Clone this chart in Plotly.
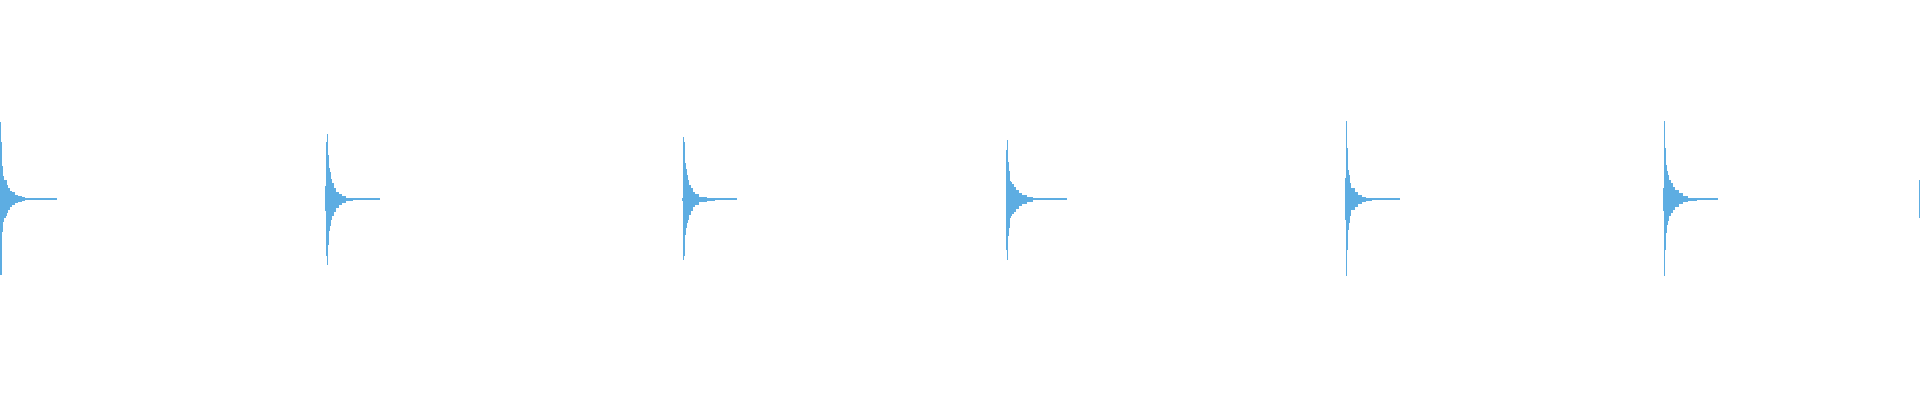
import plotly.graph_objects as go

# Waveform envelope of seven drum hits (time in ms, amplitude in % of full scale).
# Each burst: step boundaries, upper envelope, lower envelope.
hit1_t = [0, 1, 2, 3, 4, 6, 7, 8, 10, 12, 15, 18, 22, 25, 35, 57]
hit1_hi = [38.5, 28.5, 16.5, 11.5, 9.5, 9.5, 7, 5.5, 4, 3.5, 2.25, 1.75, 1, 0.5, 0.25]
hit1_lo = [-38, -38, -16.5, -11.5, -9.5, -8.25, -7, -5.25, -4, -2.75, -2, -1.5, -0.75, -0.5, -0.25]

hit2_t = [325, 326, 327, 328, 329, 330, 331, 332, 334, 336, 339, 342, 346, 353, 380]
hit2_hi = [6.5, 28.5, 32.5, 22, 15.5, 13.5, 10, 8, 5.5, 3.75, 2.5, 1.75, 0.75, 0.25]
hit2_lo = [-6, -28.5, -33, -23, -16, -13.5, -10.25, -8.5, -6.5, -4.5, -3, -1.75, -0.75, -0.25]

hit3_t = [682, 683, 684, 685, 686, 687, 688, 689, 691, 693, 695, 699, 707, 715, 723, 737]
hit3_hi = [0.85, 31, 28.5, 18, 15, 12, 9.5, 7, 5.5, 3.85, 2.65, 1.35, 0.85, 0.5, 0.25]
hit3_lo = [-0.85, -30.5, -28.5, -18, -14.5, -12, -10.35, -7.85, -6, -4, -2.85, -1.5, -0.85, -0.5, -0.25]

hit4_t = [1006, 1007, 1008, 1009, 1010, 1011, 1012, 1014, 1016, 1019, 1022, 1027, 1033, 1048, 1067]
hit4_hi = [24.5, 29.5, 18.5, 14, 9, 8.5, 7.5, 6.35, 4.5, 3.35, 2.15, 1.35, 0.5, 0.25]
hit4_lo = [-25.5, -30.5, -18.5, -14.5, -9.5, -8.5, -7.5, -6.5, -5, -3.5, -2.35, -1.35, -0.5, -0.25]

hit5_t = [1345, 1346, 1347, 1348, 1349, 1350, 1351, 1355, 1358, 1362, 1366, 1372, 1400]
hit5_hi = [10.5, 39, 25.5, 14.5, 12, 8, 5.5, 3.85, 2.15, 1.35, 0.65, 0.25]
hit5_lo = [-10.5, -38.5, -25.5, -15.5, -12, -8.5, -5.5, -4, -2.35, -1.35, -0.65, -0.25]

hit6_t = [1663, 1664, 1665, 1666, 1667, 1668, 1669, 1671, 1673, 1675, 1679, 1683, 1688, 1697, 1718]
hit6_hi = [5.5, 39, 25.5, 17, 14, 12, 9.5, 8, 6.35, 4.65, 3, 1.65, 0.85, 0.25]
hit6_lo = [-6, -38.5, -25.5, -17, -13, -11, -8.5, -7, -5.35, -3.65, -2.35, -1.35, -0.65, -0.25]

hit7_t = [1919, 1920]
hit7_hi = [9.5]
hit7_lo = [-9.5]

hits = [
    (hit1_t, hit1_hi, hit1_lo),
    (hit2_t, hit2_hi, hit2_lo),
    (hit3_t, hit3_hi, hit3_lo),
    (hit4_t, hit4_hi, hit4_lo),
    (hit5_t, hit5_hi, hit5_lo),
    (hit6_t, hit6_hi, hit6_lo),
    (hit7_t, hit7_hi, hit7_lo),
]

WAVE_COLOR = "#5DADE2"

# flatten envelope steps into one bar trace (base = lower, height = upper - lower)
xs, widths, bases, heights = [], [], [], []
for t, hi, lo in hits:
    for i in range(len(hi)):
        xs.append((t[i] + t[i + 1]) / 2)
        widths.append(t[i + 1] - t[i])
        bases.append(lo[i])
        heights.append(hi[i] - lo[i])

fig = go.Figure()
fig.add_trace(go.Bar(
    x=xs,
    y=heights,
    base=bases,
    width=widths,
    marker=dict(color=WAVE_COLOR, line=dict(width=0)),
    hoverinfo="skip",
    showlegend=False,
))

fig.update_layout(
    width=1920,
    height=400,
    margin=dict(l=0, r=0, t=0, b=0),
    paper_bgcolor="white",
    plot_bgcolor="white",
    barmode="overlay",
    bargap=0,
    xaxis=dict(range=[0, 1920], visible=False, fixedrange=True),
    yaxis=dict(range=[-100.35, 99.65], visible=False, fixedrange=True),
)

# drop the browser's default body margin so the canvas sits at the window edge
fig.write_html(
    "out.html",
    config={"displayModeBar": False},
    post_script="document.body.style.margin='0';document.body.style.overflow='hidden';",
)
